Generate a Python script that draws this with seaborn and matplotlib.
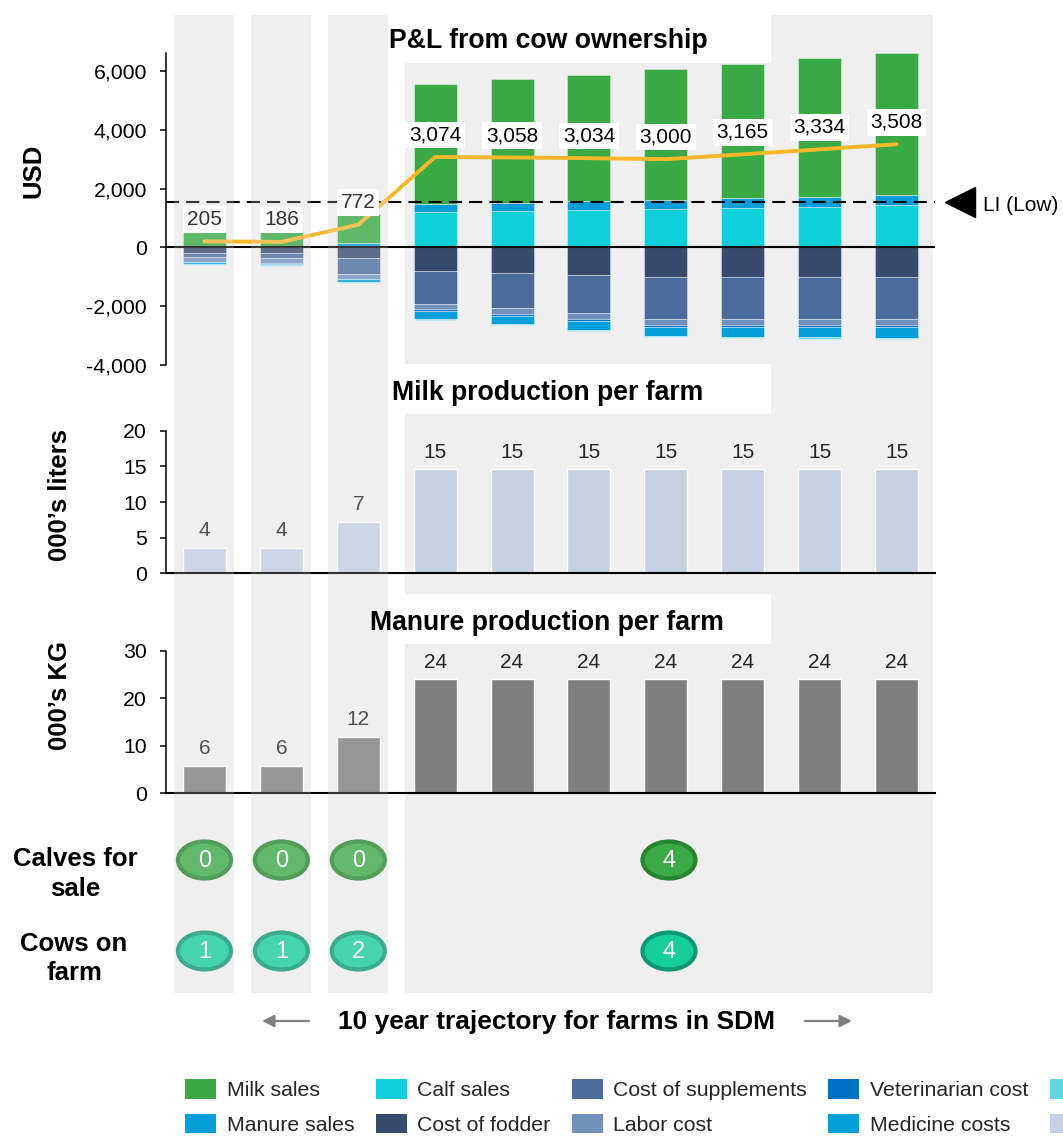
import numpy as np
import pandas as pd
import matplotlib
matplotlib.use("Agg")
import matplotlib.pyplot as plt
from matplotlib.patches import Rectangle, Ellipse, Patch
from matplotlib.ticker import FuncFormatter
import seaborn as sns

# ---------------------------------------------------------------------------
# Data: ten farm years; the first three are shown one by one, the last seven
# form one block (the shaded panel on the right).
# ---------------------------------------------------------------------------
years = list(range(1, 11))
early_years = 3

# P&L from cow ownership, USD per year
net_income = [205, 186, 772, 3074, 3058, 3034, 3000, 3165, 3334, 3508]

milk_sales = [560, 545, 996, 4084, 4194, 4294, 4452, 4571, 4730, 4858]
manure_sales = [0, 0, 140, 282, 282, 306, 306, 340, 330, 330]
calf_sales = [0, 0, 0, 1190, 1234, 1268, 1302, 1326, 1380, 1438]

cost_fodder = [175, 190, 363, 816, 873, 941, 1009, 1009, 1009, 1009]
cost_supplements = [165, 180, 544, 1111, 1190, 1303, 1428, 1428, 1428, 1428]
labor_cost = [145, 155, 159, 170, 193, 204, 193, 193, 193, 193]
veterinarian_cost = [20, 25, 17, 57, 68, 57, 79, 79, 91, 91]
medicine_costs = [55, 60, 102, 294, 294, 295, 306, 329, 340, 363]
insurance_costs = [35, 36, 23, 34, 34, 34, 45, 34, 45, 34]

living_income_low = 1530

# Production per farm
milk_k_liters = [3.6, 3.6, 7.2, 14.6, 14.6, 14.6, 14.6, 14.6, 14.6, 14.6]
manure_k_kg = [5.8, 5.8, 11.9, 24.0, 24.0, 24.0, 24.0, 24.0, 24.0, 24.0]

# Herd counts: three single years, then the seven-year block
calves_for_sale = [0, 0, 0, 4]
cows_on_farm = [1, 1, 2, 4]

income_layers = [("Calf sales", calf_sales),
                 ("Manure sales", manure_sales),
                 ("Milk sales", milk_sales)]
cost_layers = [("Cost of fodder", cost_fodder),
               ("Cost of supplements", cost_supplements),
               ("Labor cost", labor_cost),
               ("Veterinarian cost", veterinarian_cost),
               ("Medicine costs", medicine_costs),
               ("Insurance costs", insurance_costs)]

colors = {
    "Milk sales": "#39AA44",
    "Manure sales": "#039DD8",
    "Calf sales": "#0ED0DA",
    "Cost of fodder": "#364B6D",
    "Cost of supplements": "#4A6B9B",
    "Labor cost": "#7190BC",
    "Veterinarian cost": "#0072C6",
    "Medicine costs": "#029FDA",
    "Insurance costs": "#5FD6E4",
    "Other costs": "#C5D0E2",
}
# legend entries, column by column; the last column runs past the page edge,
# so only its swatches are shown
legend_order = ["Milk sales", "Manure sales", "Calf sales", "Cost of fodder",
                "Cost of supplements", "Labor cost", "Veterinarian cost",
                "Medicine costs", "Insurance costs", "Other costs"]
legend_labels = legend_order[:8] + ["", ""]

# ---------------------------------------------------------------------------
# Style
# ---------------------------------------------------------------------------
sns.set_theme(style="white")
plt.rcParams["font.family"] = ["Liberation Sans", "DejaVu Sans"]
plt.rcParams["axes.unicode_minus"] = False

W, H = 1063, 1138
fig = plt.figure(figsize=(W / 100, H / 100), dpi=100)
fig.patch.set_facecolor("white")

n = len(years)
pos = np.arange(n)
BAR_W = 0.56
PANEL = "#EFEFEF"
X0, X1 = 166, 935          # horizontal span of the plotting area (px)


def fx(px):
    return px / W


def fy(py):
    return 1 - py / H


def fig_rect(left, top, right, bottom):
    return [left / W, 1 - bottom / H, (right - left) / W, (bottom - top) / H]


def cx(px):
    """pixel column -> category coordinate"""
    return (px - X0) / (X1 - X0) * n - 0.5


# ---------------------------------------------------------------------------
# Background: column strips, block panel, title boxes, herd badges
# ---------------------------------------------------------------------------
ax_bg = fig.add_axes(fig_rect(X0, 0, X1, H), zorder=-1)
ax_bg.set_xlim(-0.5, n - 0.5)
ax_bg.set_ylim(H, 0)
ax_bg.axis("off")

STRIP_W = 0.78
for i in range(early_years):
    ax_bg.add_patch(Rectangle((i - STRIP_W / 2, 15), STRIP_W, 978,
                              color=PANEL, lw=0, zorder=0))
panel_l, panel_r = cx(405), cx(933)
ax_bg.add_patch(Rectangle((panel_l, 15), panel_r - panel_l, 978,
                          color=PANEL, lw=0, zorder=0))
for top, bottom in [(0, 63), (364, 414), (594, 644)]:
    ax_bg.add_patch(Rectangle((cx(389), top), cx(771) - cx(389), bottom - top,
                              color="white", lw=0, zorder=1))

badge_x = list(range(early_years)) + [(panel_l + panel_r) / 2]
for values, y, face, edge in [(calves_for_sale, 860, "#3BAA47", "#27862F"),
                              (cows_on_farm, 951, "#16CE9C", "#0E9872")]:
    for x, v in zip(badge_x, values):
        ax_bg.add_patch(Ellipse((x, y), 0.69, 37, facecolor=face,
                                edgecolor=edge, lw=3, zorder=3))
        ax_bg.text(x, y + 1, f"{v}", color="white", fontsize=17,
                   ha="center", va="center", zorder=4)

# ---------------------------------------------------------------------------
# Chart axes
# ---------------------------------------------------------------------------
ax_top = fig.add_axes(fig_rect(X0, 53, X1, 365), zorder=1)
ax_mid = fig.add_axes(fig_rect(X0, 430.7, X1, 573.3), zorder=1)
ax_bot = fig.add_axes(fig_rect(X0, 650.7, X1, 793.3), zorder=1)

edge = (1, 1, 1, 0.45)


def stacked(ax, layers, sign):
    base = np.zeros(n)
    for name, vals in layers:
        h = sign * np.asarray(vals, dtype=float)
        df = pd.DataFrame({"year": pos, "usd": h})
        sns.barplot(data=df, x="year", y="usd", bottom=base,
                    color=colors[name], saturation=1, width=BAR_W,
                    errorbar=None, edgecolor=edge, linewidth=0.6, ax=ax,
                    zorder=2)
        base = base + h


stacked(ax_top, income_layers, 1)
stacked(ax_top, cost_layers, -1)

ax_top.axhline(0, color="black", lw=1.5, zorder=4)
ax_top.axhline(living_income_low, color="black", lw=1.5,
               dashes=(6.3, 3.4), zorder=4)

sns.lineplot(x=pos, y=net_income, color="#F8B62A", lw=2.8, ax=ax_top,
             zorder=6)
for i, v in enumerate(net_income):
    ax_top.annotate(f"{v:,.0f}", (i, v), xytext=(0, 15.8),
                    textcoords="offset points", ha="center", va="center",
                    fontsize=15, color="black", zorder=8,
                    bbox=dict(boxstyle="square,pad=0.18", fc="white",
                              ec="none"))

# living income marker on the right
yx = ax_top.get_yaxis_transform()
ax_top.plot([1.0325], [living_income_low], marker="<", ms=21,
            color="black", transform=yx, clip_on=False)
ax_top.annotate("LI (Low)", (1.062, living_income_low), xycoords=yx,
                xytext=(0, -6.5), textcoords="offset points",
                ha="left", va="baseline", fontsize=15, color="black",
                annotation_clip=False)

ax_top.set_ylim(-4000, 6611)
ax_top.set_yticks(np.arange(-4000, 6001, 2000))

sns.barplot(x=pos, y=milk_k_liters, color="#C5D0E2", saturation=1,
            width=BAR_W, errorbar=None, ax=ax_mid)
ax_mid.set_ylim(0, 20)
ax_mid.set_yticks(np.arange(0, 21, 5))

sns.barplot(x=pos, y=manure_k_kg, color="#7F7F7F", saturation=1,
            width=BAR_W, errorbar=None, ax=ax_bot)
ax_bot.set_ylim(0, 30)
ax_bot.set_yticks(np.arange(0, 31, 10))

for ax, vals in [(ax_mid, milk_k_liters), (ax_bot, manure_k_kg)]:
    for i, v in enumerate(vals):
        ax.annotate(f"{v:.0f}", (i, v), xytext=(0, 12.3),
                    textcoords="offset points", ha="center", va="center",
                    fontsize=15, color="#262626")

for ax in (ax_top, ax_mid, ax_bot):
    ax.patch.set_visible(False)
    ax.set_xlim(-0.5, n - 0.5)
    ax.set_xticks([])
    ax.set_xlabel("")
    ax.set_ylabel("")
    for s in ("top", "right"):
        ax.spines[s].set_visible(False)
    ax.spines["left"].set_color("black")
    ax.spines["left"].set_linewidth(1.1)
    ax.spines["bottom"].set_color("black")
    ax.spines["bottom"].set_linewidth(1.5)
    ax.tick_params(axis="y", left=True, direction="out", length=4.2,
                   width=1.1, pad=9.5, labelsize=15.3, color="black",
                   labelcolor="black")
    ax.yaxis.set_major_formatter(FuncFormatter(lambda v, p: f"{v:,.0f}"))
ax_top.spines["bottom"].set_visible(False)

# ---------------------------------------------------------------------------
# Fade over the three single-year columns
# ---------------------------------------------------------------------------
ax_ov = fig.add_axes(fig_rect(X0, 0, X1, H), zorder=2)
ax_ov.set_xlim(-0.5, n - 0.5)
ax_ov.set_ylim(H, 0)
ax_ov.axis("off")
for i in range(early_years):
    ax_ov.add_patch(Rectangle((i - STRIP_W / 2, 15), STRIP_W, 978,
                              color=PANEL, alpha=0.22, lw=0))

# bottom arrows
for a, b in [(309, 262), (805, 852)]:
    ax_ov.annotate("", xy=(cx(b), 1021), xytext=(cx(a), 1021),
                   arrowprops=dict(arrowstyle="-|>", color="#808080", lw=1.6,
                                   mutation_scale=18, shrinkA=0, shrinkB=0),
                   annotation_clip=False)

# ---------------------------------------------------------------------------
# Texts
# ---------------------------------------------------------------------------
title_kw = dict(ha="center", va="baseline", fontsize=19.2, fontweight="bold",
                color="black", zorder=5)
fig.text(fx(548), fy(48.5), "P&L from cow ownership", **title_kw)
fig.text(fx(548), fy(399.5), "Milk production per farm", **title_kw)
fig.text(fx(547), fy(629.5), "Manure production per farm", **title_kw)

ylab_kw = dict(ha="center", va="center", rotation=90, fontsize=18.5,
               fontweight="bold", color="black", zorder=5)
fig.text(fx(34), fy(171), "USD", **ylab_kw)
fig.text(fx(60), fy(495), "000’s liters", **ylab_kw)
fig.text(fx(60), fy(696), "000’s KG", **ylab_kw)

row_kw = dict(ha="center", va="baseline", fontsize=18.5, fontweight="bold",
              color="black", zorder=5)
fig.text(fx(75), fy(866), "Calves for", **row_kw)
fig.text(fx(75), fy(896), "sale", **row_kw)
fig.text(fx(74), fy(951), "Cows on", **row_kw)
fig.text(fx(74), fy(980), "farm", **row_kw)

fig.text(fx(556), fy(1029), "10 year trajectory for farms in SDM",
         ha="center", va="baseline", fontsize=19, fontweight="bold",
         color="black", zorder=5)

# ---------------------------------------------------------------------------
# Legend
# ---------------------------------------------------------------------------
handles = [Patch(facecolor=colors[k], edgecolor="none") for k in legend_order]
fig.legend(handles, legend_labels, loc="upper left",
           bbox_to_anchor=(fx(185), fy(1079)), ncol=5, frameon=False,
           fontsize=15.3, handlelength=1.46, handleheight=1.04,
           handletextpad=0.5, columnspacing=1.0, labelspacing=0.64,
           borderpad=0, borderaxespad=0)

fig.savefig("out.png", dpi=100)
